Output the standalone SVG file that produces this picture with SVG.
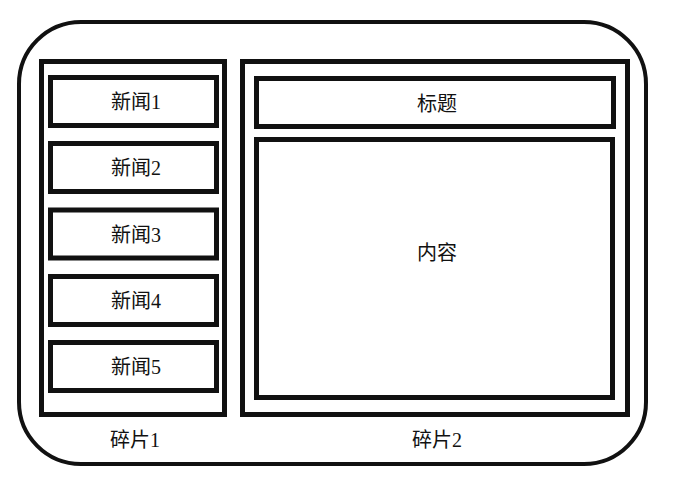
<svg xmlns="http://www.w3.org/2000/svg" width="681" height="478" viewBox="0 0 681 478">
<style>
.b{fill:none;stroke:#111;stroke-width:5}
.o{fill:none;stroke:#111;stroke-width:4}
text{font-family:"Liberation Serif","Noto Sans CJK SC",serif;font-size:20px;fill:#111;text-anchor:middle;dominant-baseline:central}
</style>
<rect width="681" height="478" fill="#fff"/>
<g id="outer"><rect class="o" x="19" y="22" width="627" height="442" rx="62" ry="62"/></g>
<g id="frag1"><rect class="b" x="41.5" y="61.5" width="183" height="353"/><text x="135" y="440">碎片1</text></g>
<g id="news1"><rect class="b" x="50.5" y="77.5" width="166" height="48"/><text x="136" y="102">新闻1</text></g>
<g id="news2"><rect class="b" x="50.5" y="143.5" width="166" height="48"/><text x="136" y="168">新闻2</text></g>
<g id="news3"><rect class="b" x="50.5" y="210" width="166" height="48"/><text x="136" y="235">新闻3</text></g>
<g id="news4"><rect class="b" x="50.5" y="276.5" width="166" height="48"/><text x="136" y="301">新闻4</text></g>
<g id="news5"><rect class="b" x="50.5" y="342.5" width="166" height="48"/><text x="136" y="367">新闻5</text></g>
<g id="frag2"><rect class="b" x="242.5" y="61.5" width="385" height="353"/><text x="437" y="440">碎片2</text></g>
<g id="title"><rect class="b" x="256.5" y="78.5" width="357" height="48"/><text x="437" y="104">标题</text></g>
<g id="content"><rect class="b" x="256.5" y="139.5" width="356" height="258"/><text x="437" y="253">内容</text></g>
<g id="connectors"></g>
</svg>
